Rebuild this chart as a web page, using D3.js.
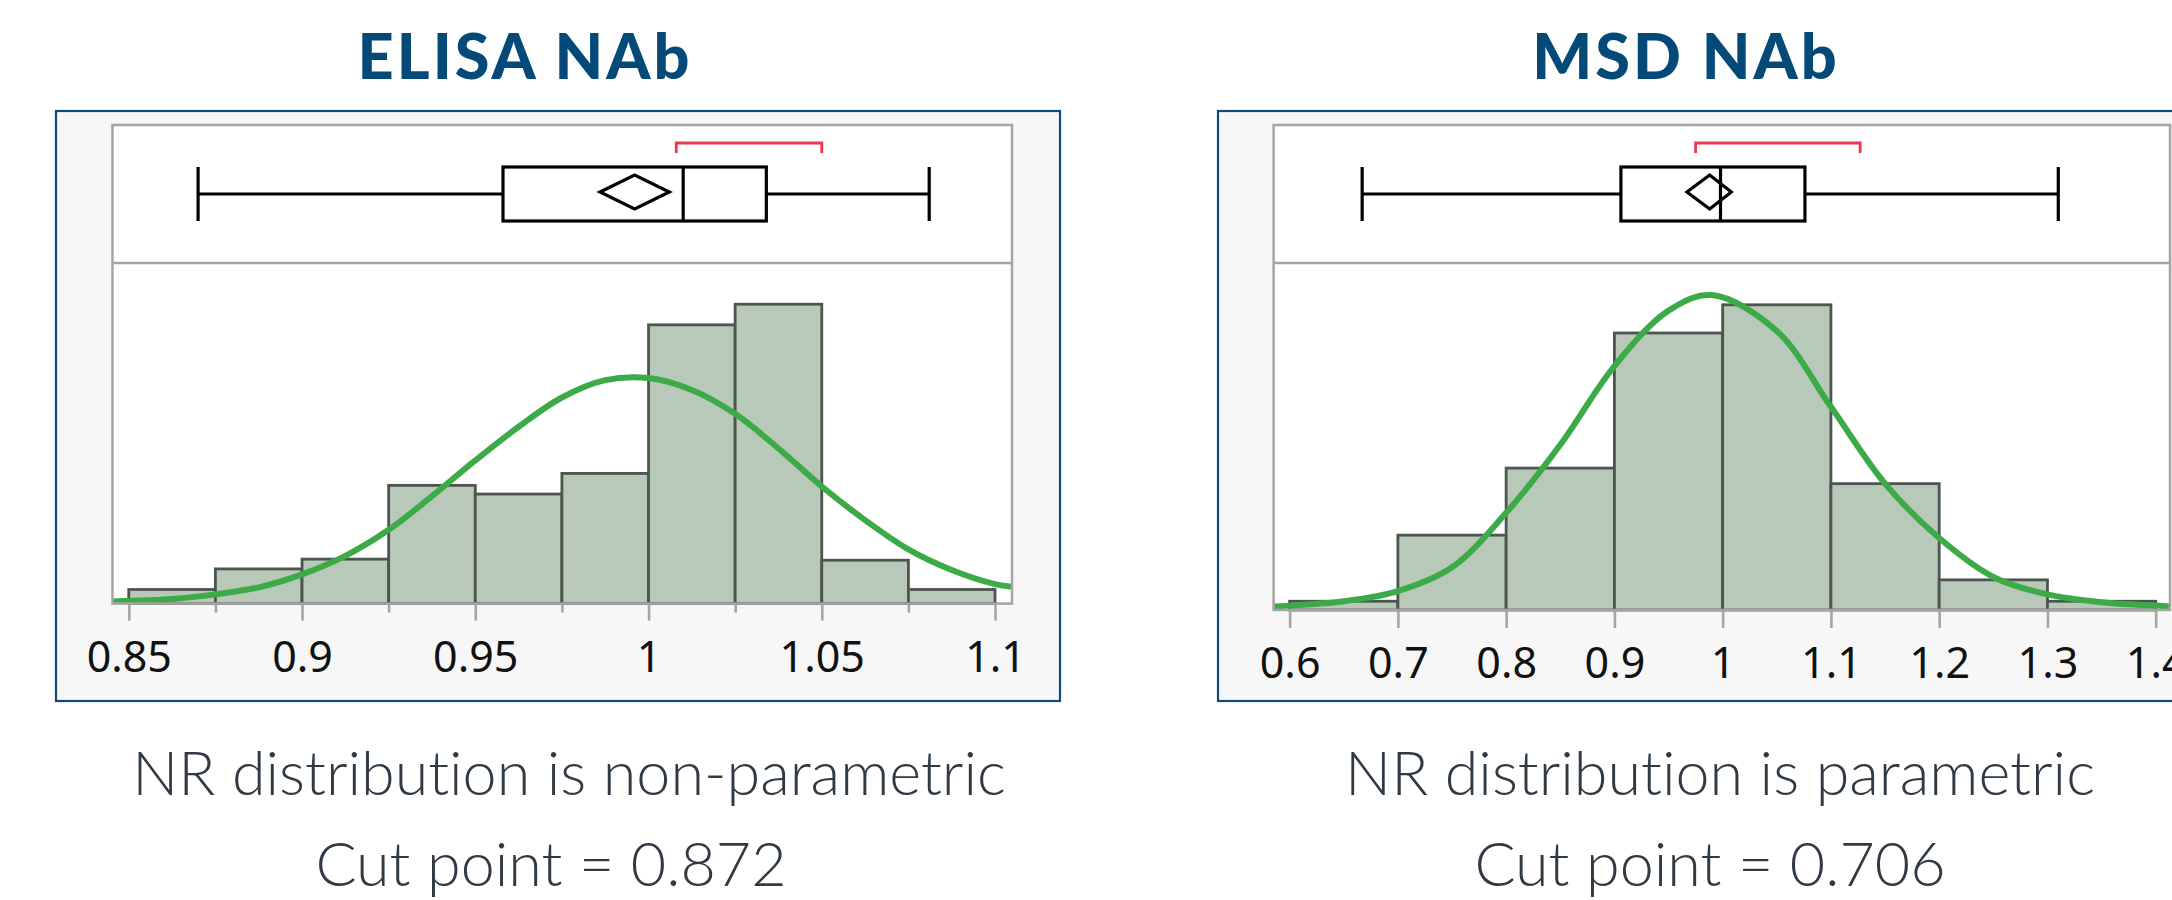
<!DOCTYPE html>
<html>
<head>
<meta charset="utf-8">
<script src="https://cdn.jsdelivr.net/npm/d3@7"></script>
<style>
  body { margin: 0; background: #fff; }
  svg { display: block; }
  text { font-variant-ligatures: none; }
</style>
</head>
<body>
<div class="viz"></div>
<script>
// ELISA NAb - histogram (% of samples per bin), fitted normal, box plot summary
const elisaEdges = [0.85, 0.875, 0.9, 0.925, 0.95, 0.975, 1.0, 1.025, 1.05, 1.075, 1.1];
const elisaPct = [1.3, 3.2, 4.1, 10.9, 10.1, 12.0, 25.7, 27.6, 4.0, 1.3];
const elisaFitX = [0.845, 0.8625, 0.875, 0.8875, 0.9, 0.9125, 0.925, 0.9375, 0.95, 0.9625, 0.975, 0.9875,
                   1.0, 1.0125, 1.025, 1.0375, 1.05, 1.0625, 1.075, 1.0875, 1.1, 1.105];
const elisaFitY = [0.2, 0.42, 0.85, 1.5, 2.7, 4.4, 6.8, 9.9, 13.2, 16.3, 19.0, 20.6,
                   20.8, 19.7, 17.5, 14.3, 10.8, 7.7, 5.0, 3.1, 1.8, 1.55];
const elisaBox = [0.870, 0.958, 1.010, 1.034, 1.081];   // min, q1, median, q3, max
const elisaMean = [0.986, 0.996, 1.006];               // lower CI, mean, upper CI
const elisaShortest = [1.008, 1.050];                   // shortest half
const elisaTicks = [0.85, 0.9, 0.95, 1, 1.05, 1.1];
const elisaMinor = [0.875, 0.925, 0.975, 1.025, 1.075];

// MSD NAb
const msdEdges = [0.6, 0.7, 0.8, 0.9, 1.0, 1.1, 1.2, 1.3, 1.4];
const msdPct = [0.9, 7.7, 14.6, 28.5, 31.4, 13.0, 3.1, 0.9];
const msdFitX = [0.585, 0.6, 0.65, 0.7, 0.75, 0.8, 0.85, 0.9, 0.95, 0.99, 1.05, 1.1, 1.15, 1.2, 1.25, 1.3, 1.35, 1.4, 1.413];
const msdFitY = [0.35, 0.45, 0.9, 1.95, 4.4, 10.0, 17.0, 25.1, 30.8, 32.4, 28.7, 20.9, 13.0, 7.4, 3.4, 1.6, 0.8, 0.45, 0.37];
const msdBox = [0.667, 0.906, 0.998, 1.076, 1.310];
const msdMean = [0.967, 0.988, 1.008];
const msdShortest = [0.975, 1.127];
const msdTicks = [0.6, 0.7, 0.8, 0.9, 1, 1.1, 1.2, 1.3, 1.4];

const titles = ["ELISA NAb", "MSD NAb"];
const notes = [
    ["NR distribution is non-parametric", "Cut point = 0.872"],
    ["NR distribution is parametric", "Cut point = 0.706"]
];

const width = 2172, height = 900;

const panels = [
    { title: titles[0], notes: notes[0], edges: elisaEdges, pct: elisaPct, fitX: elisaFitX, fitY: elisaFitY,
      box: elisaBox, mean: elisaMean, shortest: elisaShortest, ticks: elisaTicks, minor: elisaMinor,
      xDomain: [0.8453, 1.1049], yMax: 31.4,
      outerLeft: 56, outerRight: 1060, plotLeft: 112.5, plotRight: 1012, plotBottom: 603.6,
      titleX: 525, noteX: [569, 551], tickLen: 17 },
    { title: titles[1], notes: notes[1], edges: msdEdges, pct: msdPct, fitX: msdFitX, fitY: msdFitY,
      box: msdBox, mean: msdMean, shortest: msdShortest, ticks: msdTicks, minor: [],
      xDomain: [0.5852, 1.4132], yMax: 35.7,
      outerLeft: 1218, outerRight: 2222, plotLeft: 1273.6, plotRight: 2170, plotBottom: 610,
      titleX: 1686, noteX: [1720, 1710], tickLen: 18 }
];

const frameTop = 111, frameBottom = 701,
      plotTop = 125, divider = 263,
      boxMid = 194, boxHalf = 27, diamondMid = 192, diamondHalf = 17,
      bracketTop = 143, bracketDrop = 10;

const svg = d3.select('.viz').append('svg')
    .attr('width', width)
    .attr('height', height);

svg.append('rect').attr('width', width).attr('height', height).attr('fill', '#fff');

panels.forEach((p, i) => {
    const x = d3.scaleLinear().domain(p.xDomain).range([p.plotLeft, p.plotRight]);
    const y = d3.scaleLinear().domain([0, p.yMax]).range([p.plotBottom, divider]);

    const g = svg.append('g').attr('class', 'panel');

    // title
    g.append('text')
        .attr('x', p.titleX).attr('y', 78.5)
        .attr('text-anchor', 'middle')
        .attr('font-family', 'Lato, sans-serif')
        .attr('font-weight', 900)
        .attr('font-size', 63)
        .attr('letter-spacing', 3)
        .attr('fill', '#034a79')
        .text(p.title);

    // outer panel
    g.append('rect')
        .attr('x', p.outerLeft).attr('y', frameTop)
        .attr('width', p.outerRight - p.outerLeft).attr('height', frameBottom - frameTop)
        .attr('fill', '#f7f7f7')
        .attr('stroke', '#0d4c7c').attr('stroke-width', 2.2);

    // plot area
    g.append('rect')
        .attr('x', p.plotLeft).attr('y', plotTop)
        .attr('width', p.plotRight - p.plotLeft).attr('height', p.plotBottom - plotTop)
        .attr('fill', '#fff');

    const clipId = 'clip' + i;
    svg.append('clipPath').attr('id', clipId)
        .append('rect')
        .attr('x', p.plotLeft).attr('y', divider)
        .attr('width', p.plotRight - p.plotLeft).attr('height', p.plotBottom - divider);

    // histogram bars
    const bins = p.pct.map((v, k) => ({ x0: p.edges[k], x1: p.edges[k + 1], v: v }));
    g.append('g').selectAll('rect').data(bins).enter().append('rect')
        .attr('x', d => x(d.x0))
        .attr('y', d => y(d.v))
        .attr('width', d => x(d.x1) - x(d.x0))
        .attr('height', d => y(0) - y(d.v))
        .attr('fill', '#b8c9b9')
        .attr('stroke', '#4d554f')
        .attr('stroke-width', 2.8);

    // fitted normal
    const pts = p.fitX.map((v, k) => [v, p.fitY[k]]);
    g.append('path')
        .datum(pts)
        .attr('clip-path', 'url(#' + clipId + ')')
        .attr('fill', 'none')
        .attr('stroke', '#3cab47')
        .attr('stroke-width', 6)
        .attr('d', d3.line().x(d => x(d[0])).y(d => y(d[1])).curve(d3.curveCatmullRom));

    // axis ticks
    const axis = g.append('g')
        .attr('transform', 'translate(0,' + p.plotBottom + ')')
        .call(d3.axisBottom(x).tickValues(p.ticks).tickSize(p.tickLen)
            .tickPadding(68 - p.tickLen - 30.5)
            .tickFormat(d3.format('~g')));
    axis.select('.domain').remove();
    axis.selectAll('line').attr('stroke', '#a5a5a5').attr('stroke-width', 2.6);
    axis.selectAll('text')
        .attr('font-family', '"Noto Sans", "Open Sans", sans-serif')
        .attr('font-size', 43)
        .attr('fill', '#111');

    if (p.minor.length) {
        const minorAxis = g.append('g')
            .attr('transform', 'translate(0,' + p.plotBottom + ')')
            .call(d3.axisBottom(x).tickValues(p.minor).tickSize(9).tickFormat(''));
        minorAxis.select('.domain').remove();
        minorAxis.selectAll('line').attr('stroke', '#a5a5a5').attr('stroke-width', 2.6);
    }

    // divider between box plot and histogram
    g.append('line')
        .attr('x1', p.plotLeft).attr('x2', p.plotRight)
        .attr('y1', divider).attr('y2', divider)
        .attr('stroke', '#a5a5a5').attr('stroke-width', 2.5);

    // box plot
    const bp = g.append('g')
        .attr('fill', 'none').attr('stroke', '#000').attr('stroke-width', 3.2);
    bp.append('line')
        .attr('x1', x(p.box[0])).attr('x2', x(p.box[1]))
        .attr('y1', boxMid).attr('y2', boxMid);
    bp.append('line')
        .attr('x1', x(p.box[3])).attr('x2', x(p.box[4]))
        .attr('y1', boxMid).attr('y2', boxMid);
    [p.box[0], p.box[4]].forEach(v => {
        bp.append('line')
            .attr('x1', x(v)).attr('x2', x(v))
            .attr('y1', boxMid - boxHalf).attr('y2', boxMid + boxHalf);
    });
    bp.append('rect')
        .attr('x', x(p.box[1])).attr('y', boxMid - boxHalf)
        .attr('width', x(p.box[3]) - x(p.box[1])).attr('height', boxHalf * 2)
        .attr('fill', '#fff');
    bp.append('line')
        .attr('x1', x(p.box[2])).attr('x2', x(p.box[2]))
        .attr('y1', boxMid - boxHalf).attr('y2', boxMid + boxHalf);
    bp.append('path')
        .attr('d', 'M' + x(p.mean[0]) + ',' + diamondMid +
            'L' + x(p.mean[1]) + ',' + (diamondMid - diamondHalf) +
            'L' + x(p.mean[2]) + ',' + diamondMid +
            'L' + x(p.mean[1]) + ',' + (diamondMid + diamondHalf) + 'Z');

    // shortest half bracket
    g.append('path')
        .attr('fill', 'none').attr('stroke', '#e8384f').attr('stroke-width', 2.8)
        .attr('d', 'M' + x(p.shortest[0]) + ',' + (bracketTop + bracketDrop) +
            'V' + bracketTop + 'H' + x(p.shortest[1]) + 'V' + (bracketTop + bracketDrop));

    // plot frame
    g.append('rect')
        .attr('x', p.plotLeft).attr('y', plotTop)
        .attr('width', p.plotRight - p.plotLeft).attr('height', p.plotBottom - plotTop)
        .attr('fill', 'none')
        .attr('stroke', '#a5a5a5').attr('stroke-width', 2.5);

    // notes below
    g.selectAll('.note').data(p.notes).enter().append('text')
        .attr('class', 'note')
        .attr('x', (d, k) => p.noteX[k])
        .attr('y', (d, k) => k === 0 ? 795 : 886)
        .attr('text-anchor', 'middle')
        .attr('font-family', 'Lato, sans-serif')
        .attr('font-weight', 300)
        .attr('font-size', 61)
        .attr('fill', '#2f3a44')
        .text(d => d);
});
</script>
</body>
</html>
